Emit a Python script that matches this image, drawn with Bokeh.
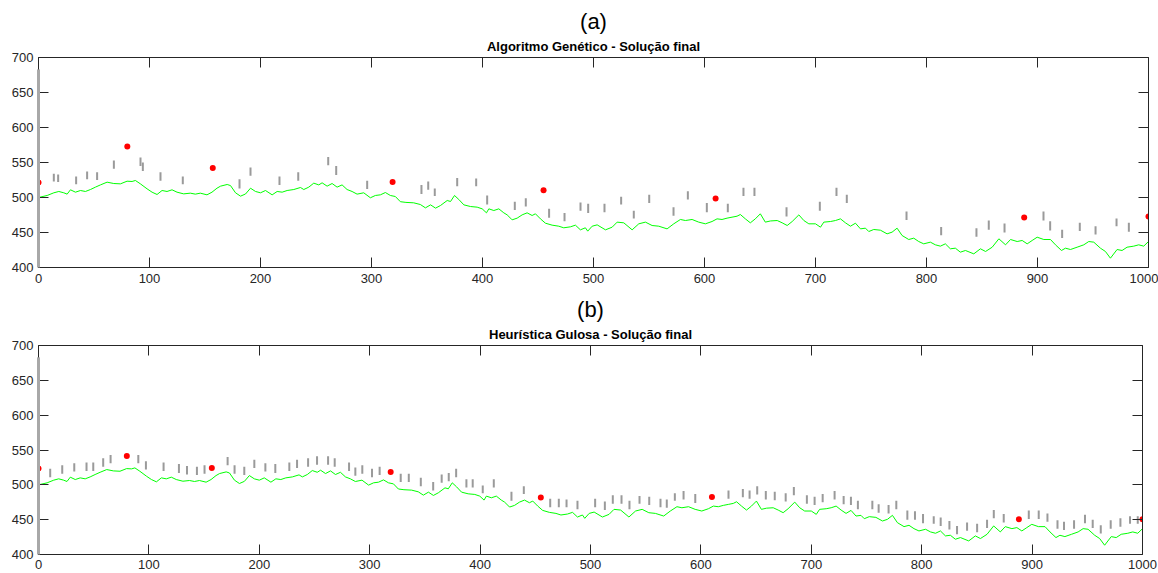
from bokeh.plotting import figure
from bokeh.models import Range1d, LinearAxis, FixedTicker, Title, CustomJSTickFormatter, ColumnDataSource
from bokeh.layouts import column
from bokeh.embed import file_html
from bokeh.resources import INLINE

# ---------------- data ----------------
terrain_x = [0, 7.8, 13.8, 18.3, 22.8, 25.8, 28.8, 33.3, 37.8, 42.3, 46.8, 51.3, 55.8, 61.8, 67.8, 73.8,
             79.8, 84.3, 87.3, 91.8, 97.8, 102.3, 106.8, 111.3, 115.8, 120.3, 124.8, 130.8, 136.8, 141.3,
             145.8, 151.8, 156.3, 160.8, 164, 170, 173, 177.5, 182, 186.5, 191, 195.5, 200, 204.5, 210.5,
             215, 219.5, 224, 230, 236, 239, 243.5, 248, 252.5, 255.5, 260, 264.5, 269, 273.5, 278, 282.5,
             287, 293, 299, 303.5, 308, 312.5, 317, 321.5, 326, 331, 338, 344, 348.6, 353.2, 357.7, 362.2,
             368.2, 371.2, 374.8, 378.7, 383.2, 389.2, 395.2, 399.7, 403.6, 405.7, 410.2, 414.7, 419.2,
             422.2, 426.7, 431.2, 435.7, 440.2, 444.7, 447.7, 452.2, 456.7, 462.7, 468.7, 473.2, 479.2,
             483.7, 488.2, 492.7, 494.8, 498.8, 503.3, 510.8, 516.8, 521.3, 527.3, 534.8, 540.8, 546.8,
             552.8, 558.8, 566.3, 572.3, 578.3, 582.8, 588.8, 594.8, 600.8, 606.8, 611.3, 615.8, 620.3,
             624.8, 629.3, 632.3, 636.8, 641.3, 645.8, 650.3, 654.8, 659.5, 665.5, 670, 674.5, 679, 685,
             689.5, 694, 700, 704.5, 707.5, 713.5, 718, 722.5, 727, 731.5, 736, 740.5, 745, 748, 752.5,
             758.5, 764.5, 769, 773.5, 778, 784, 788.5, 793, 797.5, 803.5, 808, 812.5, 817, 821.5, 826,
             830.5, 835.1, 842.6, 848.6, 853.2, 859.2, 865.2, 871.2, 875.7, 881.7, 886.2, 890.7, 895.2,
             899.7, 905.7, 911.7, 916.2, 921.6, 925.2, 929.7, 935.7, 941.7, 946.2, 950.7, 956.7, 961.2,
             965.7, 971.7, 976.2, 980.7, 986.7, 991.2, 995.7, 1000]
terrain_y = [500, 502.9, 506.7, 508.6, 506.7, 504.8, 511, 507.6, 510, 508.6, 511.4, 514.8, 518, 521.9, 520, 519.5,
             523.3, 522.9, 524.3, 519.5, 512.4, 507.6, 504.3, 510, 508.6, 511, 507.6, 505.2, 506.2, 504.8,
             506.2, 503.8, 507.6, 513.3, 516.2, 518.6, 517, 506.7, 501.9, 505, 513.3, 508.6, 506.7, 510, 503.8,
             508.6, 507.6, 510, 511.4, 514.3, 511.4, 514.8, 520.5, 518, 521, 516.2, 520, 514.8, 518, 511.4, 508.6,
             504.8, 506.7, 499.6, 502.9, 503.8, 507.1, 502.9, 501.4, 494, 493, 492.4, 490, 485.2, 489.5, 484.8, 488.6,
             495.7, 494.3, 502.9, 497.1, 489.5, 487.1, 486.2, 483.8, 478.1, 483.8, 481.4, 483.8, 478.1,
             475.2, 468.1, 470.5, 475.2, 478.1, 474.3, 476.7, 469.5, 463.3, 460.5, 459, 456.7, 458.1,
             460.5, 453.8, 456.7, 451.9, 459, 460.9, 453.8, 457.6, 464.8, 463.8, 453.8, 462.4, 464.8,
             460, 459, 455.2, 462.4, 468.6, 467.1, 468.6, 464.8, 462.4, 465.7, 469.5, 468.6, 470.5,
             471.9, 473.3, 475.7, 469.5, 463.8, 469.5, 476.7, 464.8, 466.5, 467.1, 463.8, 460, 465.7, 475.2,
             467.1, 462.4, 462.4, 457.6, 464.8, 465.7, 467.1, 469.5, 463.8, 459, 463.3, 455.2, 456.2, 451.4, 454.3,
             453.3, 448.1, 450.5, 456.2, 445.7, 440, 441.9, 437.1, 433.8, 436.2, 432.4, 430.5, 433.8, 426.7, 427.6,
             421.9, 424.3, 419.5, 426.7, 422.9, 429, 441, 432.4, 440, 437.1, 438.6, 433.8, 438.6,
             443.3, 440, 440, 432.4, 424.3, 427.6, 425.7, 429, 432.4, 437.1, 436.2, 427.6, 422.9,
             413.3, 425.7, 424.3, 429, 430.5, 432.4, 430.5, 437.1]

pole_x = [0]
pole_base = [400]
pole_top = [683]

# (a) Algoritmo Genetico
a_tower_x = [13.8, 17.7, 33.9, 43.8, 52.8, 67.9, 91.9, 94, 109.9, 130, 181.1, 191, 217.1, 234, 261, 268.2,
             296.1, 345, 351.1, 357, 377.2, 394.3, 404.2, 429.1, 439, 460, 473.9, 488.3, 495.2, 509.9,
             524.9, 536.3, 550.2, 572.1, 585, 602.1, 621, 635.1, 645, 673.9, 703.9, 718.9, 728.2, 782,
             813.2, 845, 856.1, 870.3, 905.4, 911.4, 922.2, 938.1, 952.3, 971.2, 982.3]
a_tower_top = [534, 533, 530, 537, 536, 553, 557, 550, 536, 530, 526, 543, 530, 536, 558, 545,
               524, 518, 523, 513, 528, 527, 503, 494, 499, 484, 478, 493, 491, 491,
               501, 481, 504, 486, 509, 492, 491, 514, 514, 486, 494, 514, 504, 480,
               458, 456, 467, 463, 480, 466, 454, 464, 459, 470, 464]
a_tower_base = [523, 522, 519, 526, 525, 541, 545, 538, 524, 519, 513, 531, 518, 524, 546, 532,
                512, 505, 511, 502, 516, 516, 490, 482, 487, 471, 466, 481, 478, 479,
                490, 470, 492, 474, 497, 479, 479, 502, 502, 473, 481, 502, 492, 468,
                446, 444, 454, 450, 467, 453, 442, 452, 447, 459, 451]
a_red_x = [0, 80, 157, 319, 455, 610, 888, 1000]
a_red_y = [521.5, 573, 542, 522, 510.5, 498.6, 471.4, 473]

# (b) Heuristica Gulosa
b_tower_x = [10.6, 21.5, 32.4, 43.5, 49.6, 58.6, 65.3, 90.4, 97.3, 113.3, 127.2, 134.5, 143.5, 150.4,
             171.3, 177.6, 186.4, 195.5, 205.5, 214.5, 227.2, 234.2, 244.2, 252.3, 262.3, 268.3, 281.3,
             287, 293.3, 302.1, 309, 328.1, 335.4, 346.3, 357.5, 365.2, 371.6, 378.3, 387.6, 393.3,
             402.4, 412.4, 428.4, 439.6, 463.5, 471.3, 478.3, 488.2, 504.2, 513, 520.2, 528.1, 535.3,
             544.4, 553.2, 563.4, 569.1, 576.4, 584.3, 594.9, 625, 638, 644.1, 651, 658.8, 666.9,
             676.8, 684.2, 696, 703, 710.3, 721.1, 729.3, 735.9, 742.2, 755.3, 761, 770, 777, 787,
             793.9, 801.2, 810.9, 817.2, 825.1, 832, 841.1, 850.2, 859.2, 865.3, 874.3, 897, 906,
             913.9, 923, 928.9, 938, 947.9, 954.9, 962.2, 971.2, 980, 988.7, 995.7]
b_tower_top = [523, 528, 531, 532, 532, 538, 543, 543, 534, 532, 530, 527, 526, 528,
               540, 528, 526, 536, 531, 530, 532, 536, 538, 541, 541, 538, 532,
               525, 528, 523, 526, 516, 516, 510, 504, 515, 517, 523, 508, 508,
               499, 508, 490, 498, 480, 480, 479, 477, 480, 476, 485, 485, 477,
               484, 483, 480, 479, 488, 491, 487, 492, 494, 492, 498, 491, 490,
               488, 497, 485, 483, 487, 491, 484, 483, 477, 477, 472, 471, 477, 463,
               462, 458, 455, 453, 448, 441, 446, 444, 450, 464, 458, 463, 463,
               459, 449, 447, 449, 457, 450, 442, 449, 452, 455, 455]
b_tower_base = [511, 516, 519, 520, 520, 526, 531, 531, 522, 520, 517, 515, 514, 516,
                528, 516, 514, 524, 519, 517, 520, 524, 526, 529, 529, 526, 520,
                513, 516, 511, 514, 504, 504, 498, 492, 503, 505, 511, 496, 496,
                488, 496, 477, 487, 468, 468, 468, 465, 468, 464, 473, 473, 465,
                473, 471, 468, 467, 477, 479, 474, 480, 482, 480, 486, 479, 478,
                476, 485, 473, 471, 475, 479, 472, 471, 465, 465, 460, 459, 465, 450,
                450, 445, 444, 441, 436, 429, 434, 432, 438, 452, 446, 451, 451,
                447, 437, 435, 437, 445, 438, 430, 437, 440, 444, 444]
b_red_x = [0, 80, 157, 319, 455, 610, 888, 1000]
b_red_y = [523.4, 541.5, 524.3, 518.5, 481.8, 482.6, 450.6, 450.6]

x_ticks = [0, 100, 200, 300, 400, 500, 600, 700, 800, 900, 1000]
y_ticks = [400, 450, 500, 550, 600, 650, 700]

FONT = "Liberation Sans"
AXC = "#262626"


def make_panel(letter, subtitle, tx, ttop, tbase, rx, ry, fw, fh, bl, br, bt, bb, letter_offset, standoff_lab):
    p = figure(x_range=Range1d(0, 1000), y_range=Range1d(400, 700),
               frame_width=fw, frame_height=fh,
               min_border_left=bl, min_border_right=br, min_border_top=bt, min_border_bottom=bb,
               output_backend="svg", toolbar_location=None, background_fill_color="white")
    p.outline_line_color = None
    p.xgrid.visible = False
    p.ygrid.visible = False

    p.add_layout(LinearAxis(), "above")
    p.add_layout(LinearAxis(), "right")
    for ax in p.xaxis:
        ax.ticker = FixedTicker(ticks=x_ticks)
    for ax in p.yaxis:
        ax.ticker = FixedTicker(ticks=y_ticks)
    for ax in list(p.xaxis) + list(p.yaxis):
        ax.axis_line_color = AXC
        ax.major_tick_line_color = AXC
        ax.major_tick_in = 10
        ax.major_tick_out = 0
        ax.minor_tick_line_color = None
        ax.major_label_text_font = FONT
        ax.major_label_text_font_size = "13px"
        ax.major_label_text_color = AXC
    p.below[0].major_label_standoff = standoff_lab
    p.left[0].major_label_standoff = 5
    for ax in (p.above[0], p.right[0]):
        ax.formatter = CustomJSTickFormatter(code="return ''")
        ax.major_label_text_font_size = "0px"
        ax.major_label_standoff = 0

    p.add_layout(Title(text=subtitle, align="center", text_font=FONT, text_font_size="13px",
                       text_font_style="bold", text_color="black", standoff=7), "above")
    p.add_layout(Title(text=letter, align="center", text_font=FONT, text_font_size="22px",
                       text_font_style="normal", text_color="black", standoff=0,
                       offset=letter_offset), "above")

    p.line(terrain_x, terrain_y, line_color="#00ff00", line_width=1)
    src = ColumnDataSource(dict(x=tx, top=ttop, base=tbase))
    p.segment(x0="x", y0="base", x1="x", y1="top", source=src, line_color="#9a9a9a", line_width=2)
    p.scatter(rx, ry, size=6, fill_color="#ff0000", line_color=None)
    p.segment(x0=pole_x, y0=pole_base, x1=pole_x, y1=pole_top, line_color="#a8a8a8", line_width=3,
              level="overlay")
    return p


p1 = make_panel("(a)", "Algoritmo Genético - Solução final", a_tower_x, a_tower_top, a_tower_base,
                a_red_x, a_red_y, fw=1110, fh=210, bl=38, br=10, bt=57, bb=23, letter_offset=-11,
                standoff_lab=6)
p2 = make_panel("(b)", "Heurística Gulosa - Solução final", b_tower_x, b_tower_top, b_tower_base,
                b_red_x, b_red_y, fw=1104, fh=209, bl=37, br=17, bt=55, bb=19, letter_offset=-7,
                standoff_lab=5)

layout = column(p1, p2, spacing=0)
open("out.html", "w").write(file_html(layout, INLINE))
